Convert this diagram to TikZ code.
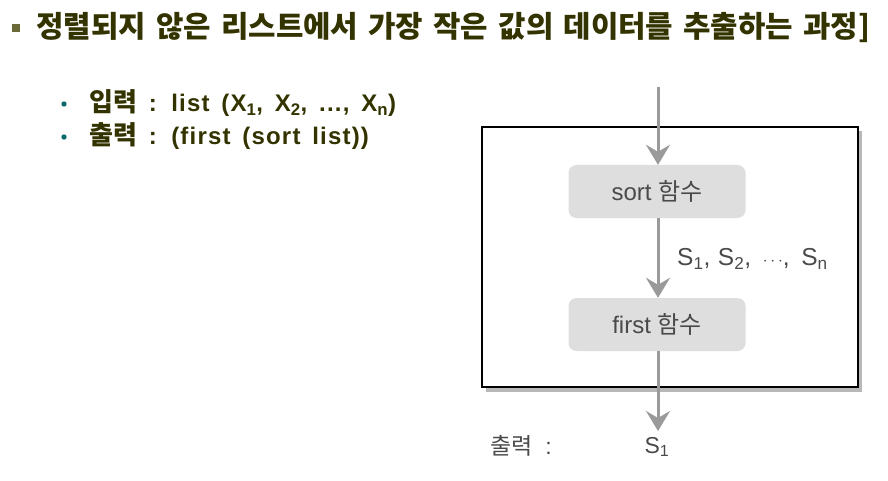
\documentclass[tikz,border=0pt]{standalone}
\usepackage{fontspec}
\setmainfont{Liberation Sans}
\newfontfamily\kr{Noto Sans CJK KR}[WordSpace=1.5]
\newfontfamily\lat{Liberation Sans}[WordSpace=1.5,LetterSpace=5]
\newfontfamily\latb{Liberation Sans}[LetterSpace=3]
\usetikzlibrary{arrows.meta}
\definecolor{olive}{HTML}{333300}
\definecolor{sqcol}{HTML}{6B6B3A}
\definecolor{teal2}{HTML}{0B6B6B}
\definecolor{arrgray}{HTML}{9A9A9A}
\definecolor{boxfill}{HTML}{DEDEDE}
\definecolor{txtgray}{HTML}{4A4A4A}
\definecolor{shadowgray}{HTML}{B8B8B8}
\tikzset{
  flow/.style={draw=arrgray, line width=3pt, -{Stealth[length=20pt,width=24pt,inset=7pt]}},
  funcbox/.style={fill=boxfill, rounded corners=8pt, minimum width=177pt, minimum height=53pt, inner sep=0pt, text=txtgray, font=\fontsize{24}{26}\selectfont},
  plain/.style={text=txtgray, inner sep=0pt, font=\fontsize{23}{25}\selectfont},
  bullettext/.style={anchor=west, inner sep=0pt, text=olive, font=\fontsize{24}{26}\selectfont\bfseries}
}
\newcommand{\ko}[1]{{\kr\fontsize{26}{28}\selectfont #1}}
\begin{document}
\begin{tikzpicture}[x=1pt,y=-1pt]
\useasboundingbox (0,0) rectangle (888,481);
% title
\fill[sqcol] (12,24) rectangle (20,32);
\node[anchor=west, inner sep=0pt, text=olive, font=\kr\fontsize{29.8}{32}\selectfont\bfseries] (title) at (36,28) {정렬되지 않은 리스트에서 가장 작은 값의 데이터를 추출하는 과정]};
% bullets
\fill[teal2] (64,104) circle (2.7);
\fill[teal2] (64,137) circle (2.7);
\node[bullettext] (in) at (89,103) {\ko{입력}\lat{ : list (X\textsubscript{1}, X\textsubscript{2}, ..., X\textsubscript{n})}};
\node[bullettext] (out) at (89,136) {\ko{출력}\lat{ : (first (sort list))}};
% box with shadow
\fill[shadowgray] (486,131) rectangle (862,392);
\draw[line width=2.7pt, fill=white] (482,127) rectangle (858,387);
% nodes
\coordinate (start) at (658,87);
\node[funcbox] (sort) at (657,191.5) {sort {\kr 함수}};
\node[funcbox] (first) at (657,324.5) {first {\kr 함수}};
\coordinate (end) at (658,431);
\node[plain, anchor=west, font=\latb\fontsize{24.5}{26}\selectfont] (seq) at (677,259) {S\textsubscript{1}, S\textsubscript{2}, \,{\fontsize{17}{17}\selectfont$\cdots$}, \,S\textsubscript{n}};
\node[plain, anchor=west] (outlbl) at (490,446) {{\kr 출력} \ :};
\node[plain] (s1) at (657,447) {S\textsubscript{1}};
% arrows
\draw[flow] (start) -- (start |- sort.north);
\draw[flow] (start |- sort.south) -- (start |- first.north);
\draw[flow] (start |- first.south) -- (end);
\end{tikzpicture}
\end{document}
